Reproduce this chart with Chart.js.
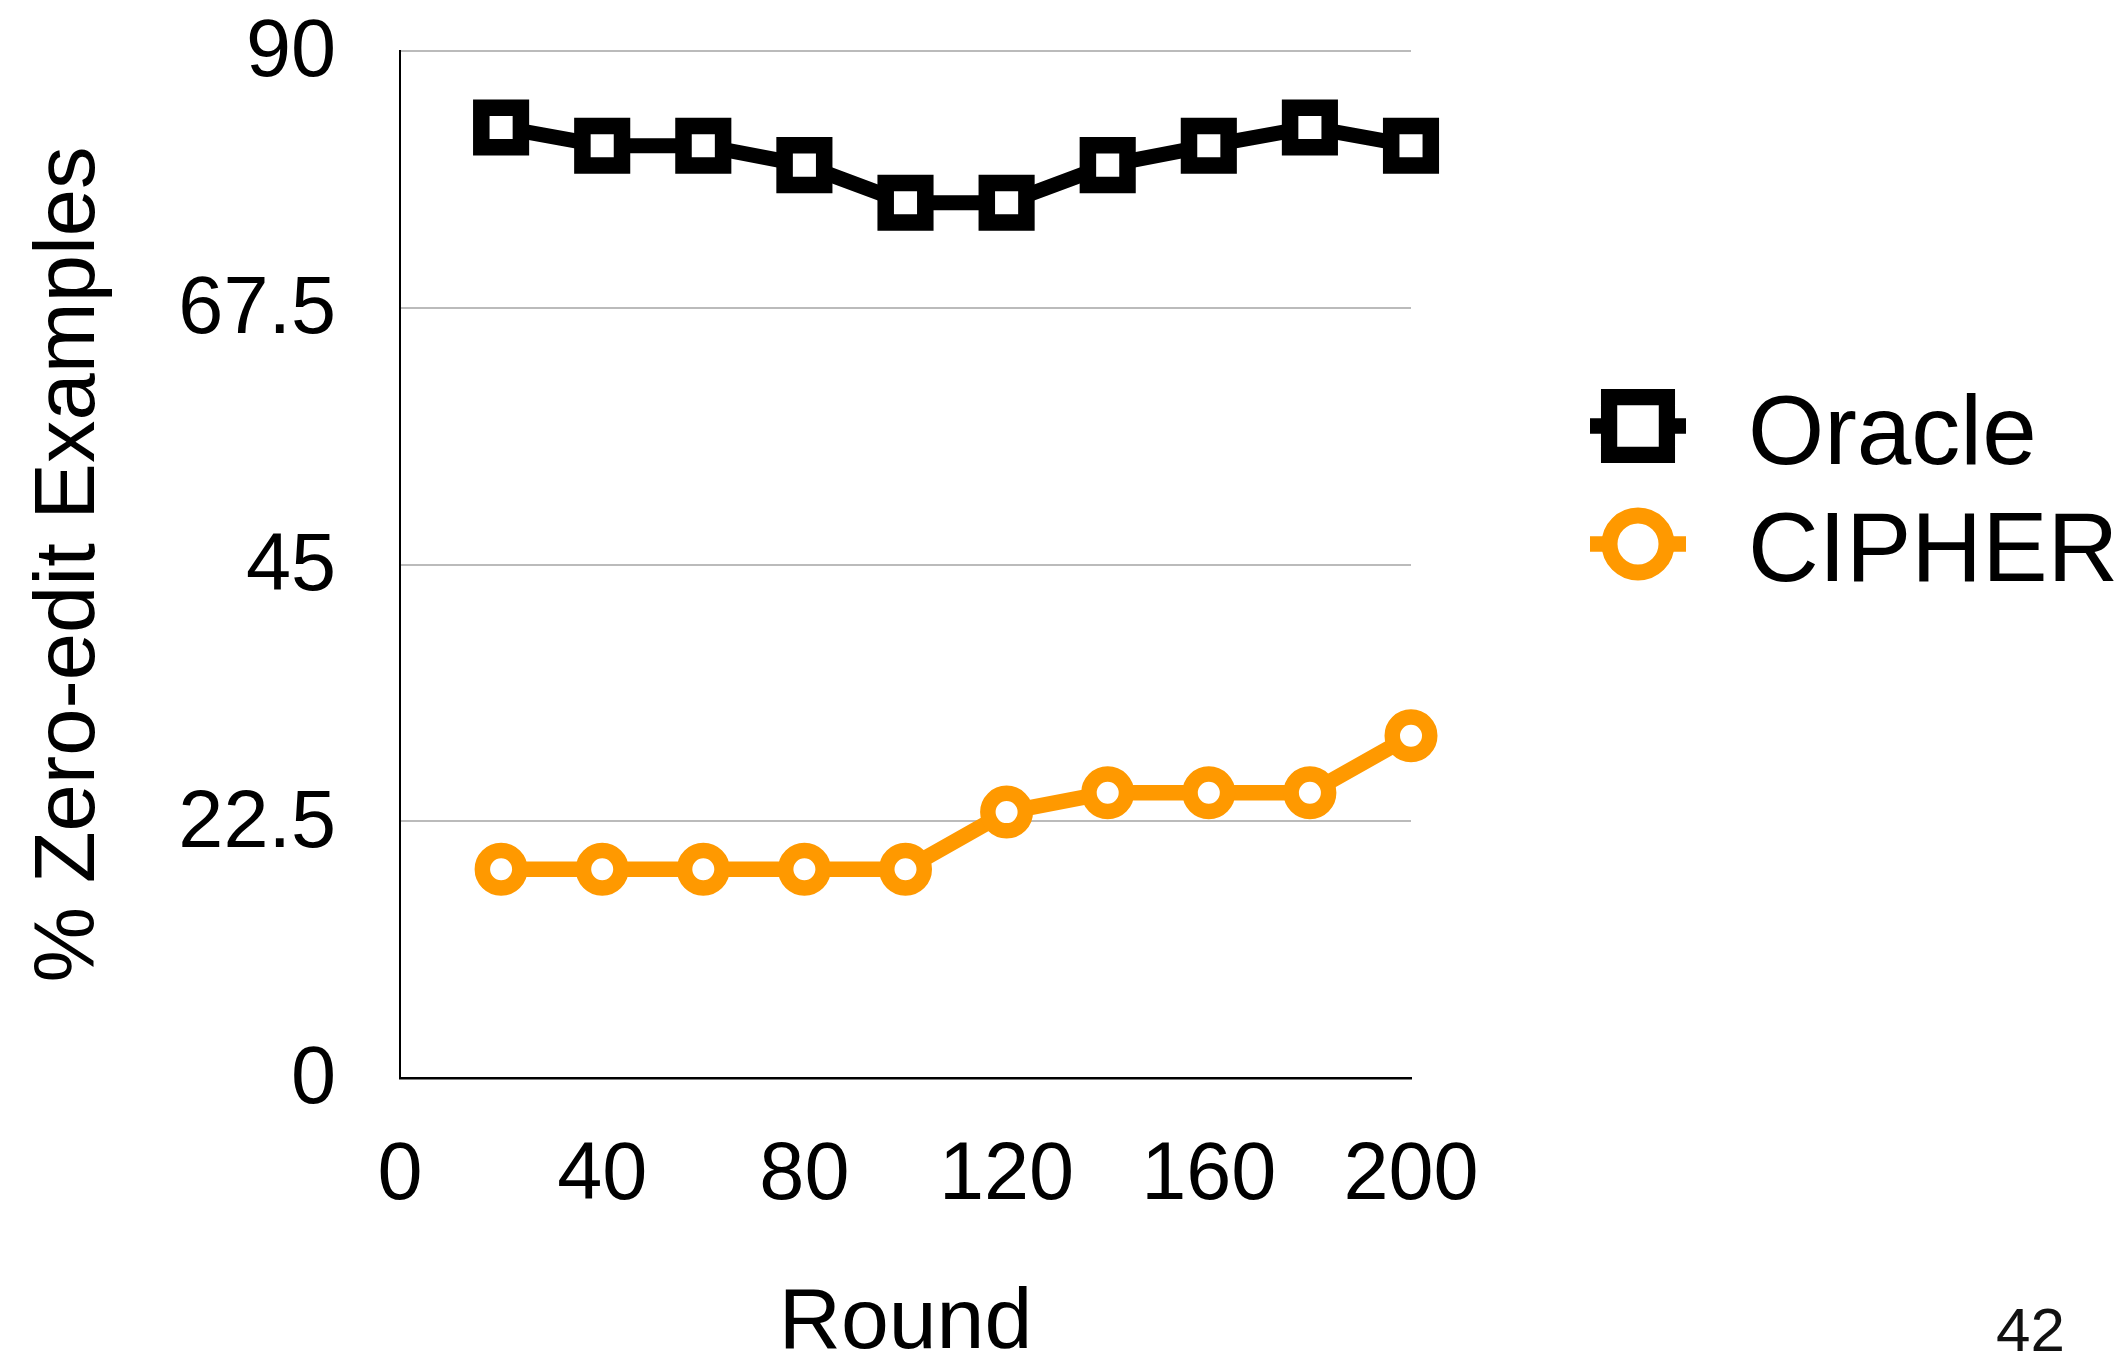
<!DOCTYPE html>
<html><head><meta charset="utf-8">
<script src="https://cdn.jsdelivr.net/npm/chart.js@4.4.1/dist/chart.umd.min.js"></script>
<style>
html,body{margin:0;padding:0;background:#fff;}
#wrap{position:relative;width:2124px;height:1358px;overflow:hidden;}
#page{position:absolute;left:1996px;top:1299px;font-family:'Liberation Sans',Arial,sans-serif;font-size:62px;line-height:62px;color:#111;}
</style>
</head><body>
<div id="wrap"><canvas id="c" width="2124" height="1358"></canvas><div id="page">42</div></div>
<script>
// ---- data ----
const rounds = [20, 40, 60, 80, 100, 120, 140, 160, 180, 200];
const oracle = [83.3, 81.7, 81.7, 80.0, 76.7, 76.7, 80.0, 81.7, 83.3, 81.7];
const cipher = [18.3, 18.3, 18.3, 18.3, 18.3, 23.3, 25.0, 25.0, 25.0, 30.0];
const seriesNames = ['Oracle', 'CIPHER'];
const xTicks = [0, 40, 80, 120, 160, 200];
const yTicks = [0, 22.5, 45, 67.5, 90];
const xTitle = 'Round';
const yTitle = '% Zero-edit Examples';

const FONT = "'Liberation Sans', Arial, Helvetica, sans-serif";
Chart.defaults.font.family = FONT;
Chart.defaults.color = '#000';

const ORANGE = '#ff9900';

const sideLegend = {
  id: 'sideLegend',
  afterDraw(chart, args, o) {
    const ctx = chart.ctx;
    ctx.save();
    chart.data.datasets.forEach((ds, i) => {
      const cx = o.iconX, cy = o.iconY[i];
      ctx.strokeStyle = ds.borderColor;
      ctx.lineWidth = o.stubWidth;
      ctx.beginPath();
      ctx.moveTo(cx - o.stubHalf, cy);
      ctx.lineTo(cx + o.stubHalf, cy);
      ctx.stroke();
      ctx.fillStyle = '#fff';
      ctx.lineWidth = o.markBorder[i];
      ctx.beginPath();
      if (ds.pointStyle === 'rect') {
        const s = o.markSize[i];
        ctx.rect(cx - s, cy - s, 2 * s, 2 * s);
      } else {
        ctx.arc(cx, cy, o.markSize[i], 0, Math.PI * 2);
      }
      ctx.fill();
      ctx.stroke();
      ctx.fillStyle = '#000';
      ctx.font = o.fontSize + 'px ' + FONT;
      ctx.textBaseline = 'alphabetic';
      ctx.textAlign = 'left';
      ctx.fillText(ds.label, o.textX, o.textBase[i]);
    });
    ctx.restore();
  }
};

new Chart(document.getElementById('c'), {
  type: 'line',
  data: {
    datasets: [
      {
        label: seriesNames[0],
        data: rounds.map((r, i) => ({x: r, y: oracle[i]})),
        borderColor: '#000',
        borderWidth: 15,
        pointStyle: 'rect',
        pointRadius: 28,
        pointBorderWidth: 16.5,
        pointBackgroundColor: '#fff',
        pointBorderColor: '#000',
        clip: false
      },
      {
        label: seriesNames[1],
        data: rounds.map((r, i) => ({x: r, y: cipher[i]})),
        borderColor: ORANGE,
        borderWidth: 15.5,
        pointStyle: 'circle',
        pointRadius: 18.75,
        pointBorderWidth: 15.5,
        pointBackgroundColor: '#fff',
        pointBorderColor: ORANGE,
        clip: false
      }
    ]
  },
  options: {
    responsive: false,
    animation: false,
    events: [],
    layout: {padding: {top: 51, right: 713, bottom: 0, left: 0}},
    plugins: {
      legend: {display: false},
      tooltip: {enabled: false},
      sideLegend: {
        iconX: 1638, iconY: [426, 544],
        stubHalf: 48, stubWidth: 15.7,
        markSize: [28.9, 28.5], markBorder: [16.25, 16],
        textX: 1748, textBase: [464, 581], fontSize: 98
      }
    },
    scales: {
      x: {
        type: 'linear',
        min: 0, max: 200,
        afterBuildTicks: s => { s.ticks = xTicks.map(v => ({value: v})); },
        afterFit: s => { s.height = 280; s.paddingLeft = 0; s.paddingRight = 0; },
        grid: {display: false, drawTicks: false},
        border: {display: true, color: '#000', width: 2.5},
        ticks: {
          font: {size: 81}, color: '#000', padding: 50,
          maxRotation: 0, autoSkip: false,
          callback: v => String(v)
        },
        title: {
          display: true, text: xTitle,
          font: {size: 86, lineHeight: 0.79}, color: '#000',
          padding: {top: 0, bottom: 0}
        }
      },
      y: {
        type: 'linear',
        min: 0, max: 90,
        afterBuildTicks: s => { s.ticks = yTicks.map(v => ({value: v})); },
        afterFit: s => { s.width = 400; s.paddingTop = 0; s.paddingBottom = 0; },
        grid: {color: '#bbbbbb', lineWidth: 2, drawTicks: false},
        border: {display: true, color: '#000', width: 2},
        ticks: {
          font: {size: 81}, color: '#000', padding: 64,
          labelOffset: 3,
          autoSkip: false,
          callback: v => String(v)
        },
        title: {
          display: true, text: yTitle,
          font: {size: 85, lineHeight: 1.2}, color: '#000',
          padding: {top: 19.5, bottom: 0}
        }
      }
    }
  },
  plugins: [sideLegend]
});
</script>
</body></html>
